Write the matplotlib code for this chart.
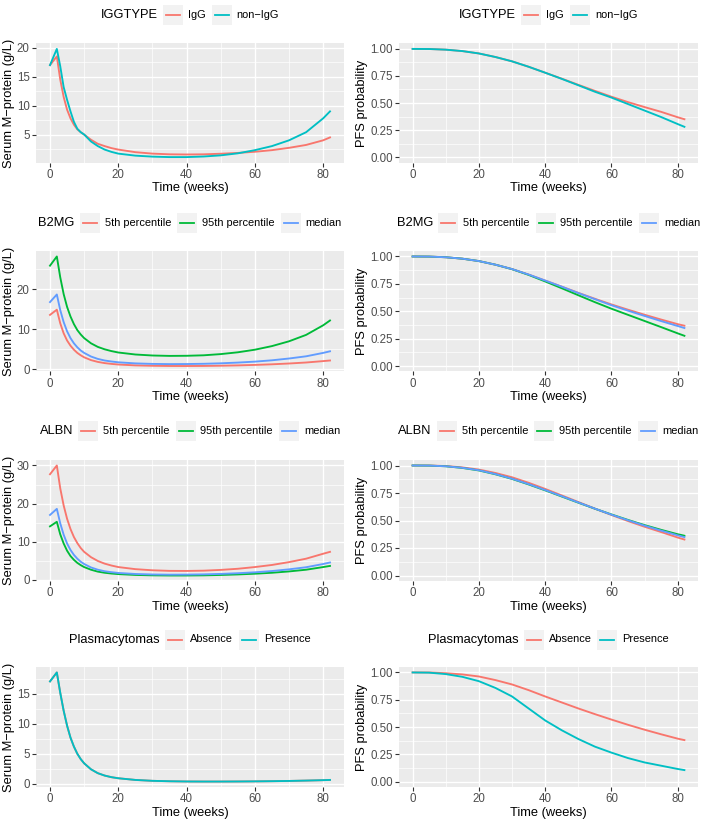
import matplotlib
matplotlib.use("Agg")
import matplotlib.pyplot as plt
from matplotlib.ticker import MultipleLocator, FormatStrFormatter
from matplotlib.patches import Rectangle
from matplotlib.lines import Line2D

plt.rcParams['font.family'] = ['Liberation Sans', 'DejaVu Sans']

# ---------------- data ----------------
T_M = [0, 2, 3, 4, 5, 6, 7, 8, 9, 10, 12, 14, 16, 18, 20, 25, 30, 35, 40, 45,
       50, 55, 60, 65, 70, 75, 80, 82]
T_P = [0, 5, 10, 15, 20, 25, 30, 35, 40, 45, 50, 55, 60, 65, 70, 75, 80, 82]

# Row 1: IGGTYPE
igg_m = [17.0, 18.5, 14.5, 11.5, 9.3, 7.8, 6.7, 5.9, 5.4, 5.0, 4.1, 3.4, 3.0, 2.65,
         2.4, 1.95, 1.7, 1.58, 1.55, 1.58, 1.68, 1.82, 2.02, 2.3, 2.7, 3.2, 4.0, 4.5]
nonigg_m = [17.0, 19.8, 16.8, 13.2, 11.0, 9.0, 7.2, 6.0, 5.4, 5.0, 3.8, 3.0, 2.4, 2.0,
            1.7, 1.35, 1.18, 1.1, 1.1, 1.2, 1.4, 1.75, 2.3, 3.0, 4.0, 5.4, 7.8, 9.0]
igg_p = [1, 0.999, 0.993, 0.98, 0.958, 0.925, 0.885, 0.835, 0.78, 0.725, 0.668,
         0.612, 0.558, 0.508, 0.462, 0.418, 0.368, 0.35]
nonigg_p = [1, 0.999, 0.993, 0.98, 0.958, 0.925, 0.885, 0.835, 0.78, 0.723, 0.664,
            0.604, 0.55, 0.49, 0.43, 0.37, 0.305, 0.28]

# Row 2: B2MG
b2mg_p5_m = [13.6, 14.9, 11.5, 9.0, 7.2, 5.9, 4.9, 4.1, 3.5, 3.0, 2.3, 1.85, 1.55, 1.35,
             1.2, 0.98, 0.88, 0.83, 0.82, 0.84, 0.9, 0.98, 1.1, 1.25, 1.45, 1.7, 2.05, 2.2]
b2mg_p95_m = [25.9, 28.2, 23.0, 18.8, 15.6, 13.2, 11.3, 9.8, 8.7, 7.8, 6.5, 5.6, 5.0, 4.55,
              4.2, 3.7, 3.45, 3.35, 3.38, 3.5, 3.8, 4.25, 4.9, 5.8, 7.0, 8.6, 11.0, 12.2]
b2mg_med_m = [16.8, 18.7, 14.8, 11.8, 9.5, 7.8, 6.5, 5.5, 4.7, 4.1, 3.2, 2.6, 2.2, 1.95,
              1.75, 1.48, 1.35, 1.3, 1.32, 1.38, 1.5, 1.68, 1.92, 2.25, 2.7, 3.25, 4.1, 4.5]
b2mg_p5_p = [1, 0.999, 0.993, 0.98, 0.958, 0.925, 0.885, 0.835, 0.78, 0.725, 0.668,
             0.614, 0.562, 0.514, 0.468, 0.424, 0.382, 0.368]
b2mg_p95_p = [1, 0.999, 0.993, 0.98, 0.958, 0.925, 0.884, 0.832, 0.772, 0.71, 0.646,
              0.583, 0.523, 0.467, 0.411, 0.355, 0.298, 0.276]
b2mg_med_p = [1, 0.999, 0.993, 0.98, 0.958, 0.925, 0.885, 0.835, 0.78, 0.724, 0.666,
              0.61, 0.555, 0.505, 0.457, 0.41, 0.365, 0.347]

# Row 3: ALBN
albn_p5_m = [27.7, 30.0, 24.0, 19.5, 16.0, 13.3, 11.2, 9.6, 8.3, 7.3, 5.9, 4.9, 4.2, 3.7,
             3.3, 2.75, 2.45, 2.3, 2.28, 2.35, 2.55, 2.85, 3.3, 3.85, 4.6, 5.5, 6.8, 7.3]
albn_p95_m = [14.0, 15.2, 11.9, 9.5, 7.6, 6.2, 5.2, 4.4, 3.8, 3.3, 2.6, 2.1, 1.8, 1.6,
              1.45, 1.23, 1.12, 1.08, 1.08, 1.12, 1.22, 1.36, 1.55, 1.8, 2.15, 2.6, 3.3, 3.6]
albn_med_m = [17.0, 18.6, 14.8, 11.8, 9.5, 7.8, 6.5, 5.5, 4.7, 4.1, 3.2, 2.6, 2.2, 1.95,
              1.75, 1.48, 1.35, 1.3, 1.32, 1.38, 1.5, 1.68, 1.92, 2.25, 2.7, 3.25, 4.1, 4.5]
albn_p5_p = [1, 1.0, 0.995, 0.983, 0.963, 0.932, 0.893, 0.843, 0.787, 0.728, 0.668,
             0.608, 0.55, 0.495, 0.443, 0.395, 0.345, 0.327]
albn_p95_p = [1, 0.999, 0.993, 0.978, 0.955, 0.92, 0.878, 0.828, 0.774, 0.718, 0.662,
              0.607, 0.555, 0.505, 0.458, 0.415, 0.375, 0.362]
albn_med_p = [1, 0.999, 0.993, 0.979, 0.957, 0.922, 0.88, 0.831, 0.777, 0.721, 0.664,
              0.608, 0.553, 0.502, 0.453, 0.408, 0.365, 0.349]

# Row 4: Plasmacytomas
plasma_abs_m = [17.1, 18.6, 15.2, 12.2, 9.7, 7.7, 6.2, 5.0, 4.1, 3.4, 2.4, 1.75, 1.35, 1.08,
                0.9, 0.62, 0.47, 0.4, 0.36, 0.35, 0.35, 0.36, 0.38, 0.41, 0.45, 0.51, 0.58, 0.62]
plasma_pres_m = [17.1, 18.6, 15.2, 12.2, 9.7, 7.7, 6.2, 5.0, 4.1, 3.4, 2.4, 1.75, 1.35, 1.08,
                 0.9, 0.62, 0.47, 0.4, 0.36, 0.35, 0.35, 0.36, 0.38, 0.41, 0.45, 0.51, 0.58, 0.62]
plasma_abs_p = [1, 1.0, 0.993, 0.982, 0.963, 0.93, 0.89, 0.838, 0.78, 0.725, 0.67,
                0.618, 0.568, 0.52, 0.475, 0.433, 0.393, 0.38]
plasma_pres_p = [1, 0.998, 0.985, 0.96, 0.92, 0.858, 0.78, 0.67, 0.56, 0.47, 0.39,
                 0.32, 0.265, 0.215, 0.175, 0.145, 0.115, 0.105]

HUE2 = ['#F8766D', '#00BFC4']
HUE3 = ['#F8766D', '#00BA38', '#619CFF']

rows = [
    dict(title='IGGTYPE', labels=['IgG', 'non\u2212IgG'], colors=HUE2,
         m=[igg_m, nonigg_m], p=[igg_p, nonigg_p], ystep=5),
    dict(title='B2MG', labels=['5th percentile', '95th percentile', 'median'], colors=HUE3,
         m=[b2mg_p5_m, b2mg_p95_m, b2mg_med_m], p=[b2mg_p5_p, b2mg_p95_p, b2mg_med_p], ystep=10),
    dict(title='ALBN', labels=['5th percentile', '95th percentile', 'median'], colors=HUE3,
         m=[albn_p5_m, albn_p95_m, albn_med_m], p=[albn_p5_p, albn_p95_p, albn_med_p], ystep=10),
    dict(title='Plasmacytomas', labels=['Absence', 'Presence'], colors=HUE2,
         m=[plasma_abs_m, plasma_pres_m], p=[plasma_abs_p, plasma_pres_p], ystep=5),
]

# ---------------- layout (pixels) ----------------
W, H = 709, 819
fig = plt.figure(figsize=(W / 100, H / 100), dpi=100)
fig.patch.set_facecolor('white')

LEFT_X = (36, 344)
RIGHT_X = (399, 698)
ROW_Y = [(43.5, 162.5), (251, 371.5), (460, 581), (667, 787)]
LEG_Y = [15, 223, 431, 639.5]

TICK_FS = 8.3
TITLE_FS = 9.3
LEG_FS = 7.9


def px_axes(x0, x1, y0, y1):
    return fig.add_axes([x0 / W, 1 - y1 / H, (x1 - x0) / W, (y1 - y0) / H])


def style(ax):
    ax.set_facecolor('#EBEBEB')
    for s in ax.spines.values():
        s.set_visible(False)
    ax.set_axisbelow(True)
    ax.grid(which='major', color='white', lw=1.0)
    ax.grid(which='minor', color='white', lw=0.5)
    ax.tick_params(which='major', length=3, width=0.8, color='#333333',
                   labelcolor='#4D4D4D', labelsize=TICK_FS, pad=1.5)
    ax.tick_params(which='minor', length=0)
    ax.xaxis.set_major_locator(MultipleLocator(20))
    ax.xaxis.set_minor_locator(MultipleLocator(10))
    ax.set_xlabel('Time (weeks)', fontsize=TITLE_FS, labelpad=1)


renderer = fig.canvas.get_renderer()


def draw_legend(cx, cy, title, labels, colors):
    key_w, key_h = 20, 20
    g_title, g_key, g_item = 5, 5, 6
    t = fig.text(0, 1 - cy / H, title, fontsize=TITLE_FS, va='center', ha='left')
    lts = [fig.text(0, 1 - cy / H, lab, fontsize=LEG_FS, va='center', ha='left') for lab in labels]
    tw = t.get_window_extent(renderer).width
    lws = [lt.get_window_extent(renderer).width for lt in lts]
    total = tw + g_title + sum(key_w + g_key + w for w in lws) + g_item * (len(labels) - 1)
    x = cx - total / 2
    t.set_x(x / W)
    x += tw + g_title
    for lt, w, c in zip(lts, lws, colors):
        fig.patches.append(Rectangle((x / W, 1 - (cy + key_h / 2) / H), key_w / W, key_h / H,
                                     transform=fig.transFigure, facecolor='#F2F2F2',
                                     edgecolor='none', zorder=1))
        fig.lines.append(Line2D([(x + 3) / W, (x + key_w - 3) / W], [1 - cy / H, 1 - cy / H],
                                transform=fig.transFigure, color=c, lw=1.3, zorder=2))
        x += key_w + g_key
        lt.set_x(x / W)
        x += w + g_item


for r, row in enumerate(rows):
    y0, y1 = ROW_Y[r]
    # left: serum M-protein
    axl = px_axes(LEFT_X[0], LEFT_X[1], y0, y1)
    style(axl)
    for vals, c in zip(row['m'], row['colors']):
        axl.plot(T_M, vals, color=c, lw=1.35)
    axl.margins(x=0.05, y=0.05)
    axl.yaxis.set_major_locator(MultipleLocator(row['ystep']))
    axl.yaxis.set_minor_locator(MultipleLocator(row['ystep'] / 2))
    axl.set_ylabel('Serum M\u2212protein (g/L)', fontsize=TITLE_FS, labelpad=1.5)
    draw_legend((LEFT_X[0] + LEFT_X[1]) / 2, LEG_Y[r], row['title'], row['labels'], row['colors'])

    # right: PFS probability
    axr = px_axes(RIGHT_X[0], RIGHT_X[1], y0, y1)
    style(axr)
    for vals, c in zip(row['p'], row['colors']):
        axr.plot(T_P, vals, color=c, lw=1.35)
    axr.margins(x=0.05)
    axr.set_ylim(-0.05, 1.05)
    axr.yaxis.set_major_locator(MultipleLocator(0.25))
    axr.yaxis.set_minor_locator(MultipleLocator(0.125))
    axr.yaxis.set_major_formatter(FormatStrFormatter('%.2f'))
    axr.set_ylabel('PFS probability', fontsize=TITLE_FS, labelpad=1.5)
    draw_legend((RIGHT_X[0] + RIGHT_X[1]) / 2, LEG_Y[r], row['title'], row['labels'], row['colors'])

fig.savefig('out.png', dpi=100, facecolor='white')
